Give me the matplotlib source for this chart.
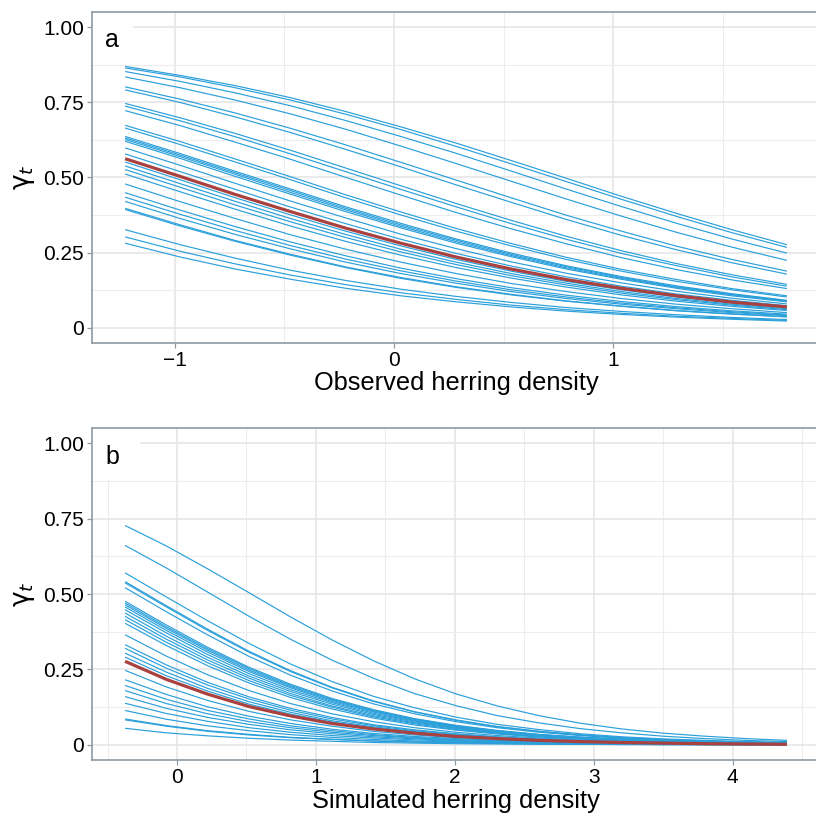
import matplotlib
matplotlib.use("Agg")
import matplotlib.pyplot as plt
from matplotlib.patches import Rectangle

plt.rcParams['font.family'] = ['Liberation Sans', 'DejaVu Sans']
plt.rcParams['mathtext.fontset'] = 'dejavusans'

# panel a: gamma_t against observed herring density (one row per year)
x_obs = [-1.225, -0.974, -0.723, -0.471, -0.22, 0.031, 0.283,
         0.534, 0.785, 1.036, 1.288, 1.539, 1.79]
gamma_obs = [
    [0.869, 0.839, 0.805, 0.765, 0.719, 0.668, 0.614, 0.556, 0.497, 0.437, 0.380, 0.326, 0.276],
    [0.864, 0.834, 0.798, 0.757, 0.710, 0.659, 0.603, 0.545, 0.486, 0.427, 0.370, 0.316, 0.267],
    [0.852, 0.819, 0.781, 0.738, 0.689, 0.636, 0.580, 0.521, 0.461, 0.403, 0.347, 0.295, 0.248],
    [0.834, 0.798, 0.757, 0.711, 0.660, 0.604, 0.546, 0.487, 0.428, 0.371, 0.317, 0.268, 0.224],
    [0.801, 0.760, 0.714, 0.663, 0.608, 0.550, 0.491, 0.432, 0.374, 0.321, 0.271, 0.227, 0.188],
    [0.791, 0.749, 0.701, 0.649, 0.593, 0.535, 0.475, 0.417, 0.360, 0.307, 0.259, 0.216, 0.178],
    [0.746, 0.698, 0.646, 0.590, 0.531, 0.472, 0.413, 0.357, 0.304, 0.256, 0.213, 0.176, 0.144],
    [0.737, 0.688, 0.635, 0.578, 0.519, 0.460, 0.402, 0.346, 0.294, 0.247, 0.206, 0.169, 0.138],
    [0.722, 0.672, 0.617, 0.560, 0.500, 0.441, 0.383, 0.329, 0.279, 0.233, 0.193, 0.159, 0.130],
    [0.673, 0.619, 0.561, 0.502, 0.442, 0.385, 0.330, 0.280, 0.234, 0.194, 0.160, 0.130, 0.106],
    [0.664, 0.609, 0.551, 0.492, 0.432, 0.375, 0.321, 0.272, 0.227, 0.188, 0.154, 0.126, 0.102],
    [0.636, 0.579, 0.520, 0.461, 0.402, 0.347, 0.295, 0.248, 0.206, 0.170, 0.139, 0.113, 0.091],
    [0.631, 0.574, 0.515, 0.456, 0.397, 0.342, 0.291, 0.244, 0.203, 0.167, 0.136, 0.111, 0.089],
    [0.626, 0.569, 0.510, 0.450, 0.392, 0.337, 0.286, 0.240, 0.199, 0.164, 0.134, 0.109, 0.088],
    [0.620, 0.563, 0.503, 0.444, 0.386, 0.332, 0.281, 0.236, 0.195, 0.161, 0.131, 0.106, 0.086],
    [0.598, 0.540, 0.480, 0.421, 0.365, 0.311, 0.263, 0.219, 0.181, 0.149, 0.121, 0.098, 0.079],
    [0.578, 0.519, 0.460, 0.401, 0.346, 0.294, 0.247, 0.205, 0.169, 0.138, 0.112, 0.091, 0.073],
    [0.551, 0.492, 0.432, 0.375, 0.321, 0.272, 0.227, 0.188, 0.154, 0.126, 0.102, 0.082, 0.066],
    [0.538, 0.479, 0.420, 0.363, 0.310, 0.261, 0.218, 0.180, 0.148, 0.120, 0.097, 0.078, 0.063],
    [0.526, 0.467, 0.408, 0.352, 0.300, 0.252, 0.210, 0.173, 0.142, 0.115, 0.093, 0.075, 0.060],
    [0.511, 0.452, 0.394, 0.338, 0.287, 0.241, 0.200, 0.165, 0.135, 0.109, 0.088, 0.071, 0.057],
    [0.478, 0.419, 0.363, 0.309, 0.261, 0.218, 0.180, 0.147, 0.120, 0.097, 0.078, 0.063, 0.050],
    [0.449, 0.391, 0.336, 0.285, 0.239, 0.198, 0.163, 0.133, 0.108, 0.087, 0.070, 0.056, 0.045],
    [0.434, 0.377, 0.323, 0.273, 0.228, 0.189, 0.155, 0.126, 0.102, 0.082, 0.066, 0.053, 0.042],
    [0.420, 0.363, 0.310, 0.262, 0.218, 0.180, 0.148, 0.120, 0.097, 0.078, 0.063, 0.050, 0.040],
    [0.397, 0.342, 0.290, 0.244, 0.202, 0.167, 0.136, 0.111, 0.089, 0.072, 0.057, 0.046, 0.036],
    [0.393, 0.338, 0.287, 0.241, 0.200, 0.164, 0.134, 0.109, 0.088, 0.071, 0.056, 0.045, 0.036],
    [0.326, 0.276, 0.231, 0.191, 0.157, 0.128, 0.104, 0.084, 0.067, 0.054, 0.043, 0.034, 0.027],
    [0.302, 0.254, 0.212, 0.175, 0.143, 0.116, 0.094, 0.075, 0.060, 0.048, 0.038, 0.031, 0.024],
    [0.281, 0.235, 0.195, 0.161, 0.131, 0.106, 0.086, 0.069, 0.055, 0.044, 0.035, 0.028, 0.022],
]
gamma_obs_mean = [0.562, 0.503, 0.443, 0.386, 0.331, 0.281, 0.235, 0.195, 0.160, 0.131, 0.106, 0.085, 0.069]

# panel b: gamma_t against simulated herring density
x_sim = [-0.374, -0.076, 0.222, 0.519, 0.817, 1.115, 1.413, 1.710, 2.008,
         2.306, 2.604, 2.901, 3.199, 3.497, 3.795, 4.092, 4.39]
gamma_sim = [
    [0.727, 0.659, 0.583, 0.504, 0.424, 0.348, 0.279, 0.219, 0.169, 0.129, 0.097, 0.072, 0.053, 0.039, 0.029, 0.021, 0.015],
    [0.661, 0.586, 0.506, 0.426, 0.350, 0.281, 0.221, 0.170, 0.130, 0.097, 0.073, 0.054, 0.040, 0.029, 0.021, 0.015, 0.011],
    [0.570, 0.490, 0.411, 0.336, 0.268, 0.210, 0.161, 0.123, 0.092, 0.068, 0.051, 0.037, 0.027, 0.020, 0.015, 0.011, 0.008],
    [0.541, 0.461, 0.383, 0.310, 0.246, 0.191, 0.146, 0.110, 0.083, 0.061, 0.045, 0.033, 0.024, 0.018, 0.013, 0.009, 0.007],
    [0.537, 0.457, 0.379, 0.307, 0.243, 0.189, 0.144, 0.109, 0.081, 0.060, 0.045, 0.033, 0.024, 0.017, 0.013, 0.009, 0.007],
    [0.521, 0.441, 0.364, 0.293, 0.231, 0.179, 0.136, 0.103, 0.077, 0.057, 0.042, 0.031, 0.022, 0.016, 0.012, 0.009, 0.006],
    [0.476, 0.397, 0.323, 0.257, 0.201, 0.154, 0.117, 0.087, 0.065, 0.048, 0.035, 0.026, 0.019, 0.014, 0.010, 0.007, 0.005],
    [0.470, 0.391, 0.318, 0.253, 0.197, 0.151, 0.114, 0.086, 0.063, 0.047, 0.034, 0.025, 0.018, 0.013, 0.010, 0.007, 0.005],
    [0.464, 0.386, 0.313, 0.248, 0.193, 0.148, 0.112, 0.084, 0.062, 0.046, 0.034, 0.025, 0.018, 0.013, 0.010, 0.007, 0.005],
    [0.457, 0.379, 0.307, 0.243, 0.189, 0.144, 0.109, 0.081, 0.060, 0.045, 0.033, 0.024, 0.017, 0.013, 0.009, 0.007, 0.005],
    [0.448, 0.371, 0.299, 0.236, 0.183, 0.140, 0.105, 0.079, 0.058, 0.043, 0.032, 0.023, 0.017, 0.012, 0.009, 0.006, 0.005],
    [0.437, 0.360, 0.290, 0.228, 0.177, 0.135, 0.101, 0.076, 0.056, 0.041, 0.030, 0.022, 0.016, 0.012, 0.009, 0.006, 0.005],
    [0.426, 0.350, 0.281, 0.221, 0.170, 0.129, 0.097, 0.073, 0.054, 0.039, 0.029, 0.021, 0.015, 0.011, 0.008, 0.006, 0.004],
    [0.415, 0.340, 0.272, 0.213, 0.164, 0.125, 0.093, 0.070, 0.051, 0.038, 0.028, 0.020, 0.015, 0.011, 0.008, 0.006, 0.004],
    [0.403, 0.329, 0.262, 0.205, 0.157, 0.119, 0.089, 0.066, 0.049, 0.036, 0.026, 0.019, 0.014, 0.010, 0.007, 0.005, 0.004],
    [0.365, 0.294, 0.232, 0.180, 0.137, 0.103, 0.077, 0.057, 0.042, 0.031, 0.023, 0.016, 0.012, 0.009, 0.006, 0.005, 0.003],
    [0.332, 0.265, 0.207, 0.159, 0.121, 0.091, 0.067, 0.050, 0.037, 0.027, 0.020, 0.014, 0.010, 0.008, 0.005, 0.004, 0.003],
    [0.320, 0.254, 0.198, 0.152, 0.115, 0.086, 0.064, 0.047, 0.035, 0.025, 0.019, 0.014, 0.010, 0.007, 0.005, 0.004, 0.003],
    [0.304, 0.241, 0.187, 0.143, 0.108, 0.080, 0.060, 0.044, 0.032, 0.024, 0.017, 0.013, 0.009, 0.007, 0.005, 0.003, 0.003],
    [0.291, 0.229, 0.178, 0.135, 0.102, 0.076, 0.056, 0.041, 0.030, 0.022, 0.016, 0.012, 0.009, 0.006, 0.005, 0.003, 0.002],
    [0.247, 0.192, 0.147, 0.111, 0.083, 0.062, 0.045, 0.033, 0.024, 0.018, 0.013, 0.009, 0.007, 0.005, 0.004, 0.003, 0.002],
    [0.216, 0.167, 0.126, 0.095, 0.071, 0.052, 0.038, 0.028, 0.021, 0.015, 0.011, 0.008, 0.006, 0.004, 0.003, 0.002, 0.002],
    [0.197, 0.151, 0.114, 0.086, 0.063, 0.047, 0.034, 0.025, 0.018, 0.013, 0.010, 0.007, 0.005, 0.004, 0.003, 0.002, 0.001],
    [0.180, 0.137, 0.103, 0.077, 0.057, 0.042, 0.031, 0.023, 0.016, 0.012, 0.009, 0.006, 0.005, 0.003, 0.002, 0.002, 0.001],
    [0.160, 0.121, 0.091, 0.068, 0.050, 0.037, 0.027, 0.020, 0.014, 0.010, 0.008, 0.006, 0.004, 0.003, 0.002, 0.002, 0.001],
    [0.138, 0.104, 0.078, 0.057, 0.042, 0.031, 0.023, 0.017, 0.012, 0.009, 0.006, 0.005, 0.003, 0.002, 0.002, 0.001, 0.001],
    [0.114, 0.085, 0.063, 0.047, 0.034, 0.025, 0.018, 0.013, 0.010, 0.007, 0.005, 0.004, 0.003, 0.002, 0.001, 0.001, 0.001],
    [0.086, 0.064, 0.047, 0.035, 0.025, 0.019, 0.013, 0.010, 0.007, 0.005, 0.004, 0.003, 0.002, 0.001, 0.001, 0.001, 0.001],
    [0.083, 0.062, 0.045, 0.033, 0.024, 0.018, 0.013, 0.009, 0.007, 0.005, 0.004, 0.003, 0.002, 0.001, 0.001, 0.001, 0.001],
    [0.055, 0.040, 0.030, 0.022, 0.016, 0.012, 0.008, 0.006, 0.004, 0.003, 0.002, 0.002, 0.001, 0.001, 0.001, 0.000, 0.000],
]
gamma_sim_mean = [0.277, 0.217, 0.168, 0.127, 0.096, 0.071, 0.053, 0.039, 0.028, 0.021, 0.015, 0.011, 0.008, 0.006, 0.004, 0.003, 0.002]

y_ticks = [0, 0.25, 0.5, 0.75, 1.0]
y_ticklabels = ['0', '0.25', '0.50', '0.75', '1.00']

blue = '#2A9FDA'
red = '#A8413F'
border = '#8D9AA2'


def style_panel(ax, xlim, xmajor, xminor, xlabels, xlabel, letter, box_w, box_h):
    ax.set_xlim(xlim)
    ax.set_ylim(-0.05, 1.05)
    ax.set_xticks(xmajor)
    ax.set_xticklabels(xlabels)
    ax.set_xticks(xminor, minor=True)
    ax.set_yticks(y_ticks)
    ax.set_yticklabels(y_ticklabels)
    ax.set_yticks([0.125, 0.375, 0.625, 0.875], minor=True)
    ax.grid(which='major', color='#E4E4E6', lw=1.1)
    ax.grid(which='minor', color='#EDEDEF', lw=0.8)
    ax.set_axisbelow(True)
    ax.tick_params(which='minor', length=0)
    ax.tick_params(which='major', length=3.4, width=0.9, color=border,
                   labelsize=15, pad=2.5, labelcolor='black')
    for s in ax.spines.values():
        s.set_color(border)
        s.set_linewidth(1.2)
    ax.set_xlabel(xlabel, fontsize=18.3, labelpad=1)
    ax.set_ylabel(r'$\mathrm{\gamma}_t$', fontsize=19, labelpad=4)
    # white label box behind the panel letter
    ax.add_patch(Rectangle((0, 1 - box_h), box_w, box_h + 0.01, transform=ax.transAxes,
                           facecolor='white', edgecolor='none', zorder=1, clip_on=True))
    ax.text(0.0275, 0.893, letter, transform=ax.transAxes, fontsize=18,
            ha='center', va='baseline', zorder=3)


fig = plt.figure(figsize=(8.16, 8.16), dpi=100)
ax_a = fig.add_axes([92 / 816, 1 - 342.7 / 816, 728 / 816, 330.7 / 816])
ax_b = fig.add_axes([92 / 816, 1 - 760 / 816, 728 / 816, 332 / 816])

for row in gamma_obs:
    ax_a.plot(x_obs, row, color=blue, lw=0.85, solid_capstyle='butt')
ax_a.plot(x_obs, gamma_obs_mean, color=red, lw=2.3, solid_capstyle='butt')

for row in gamma_sim:
    ax_b.plot(x_sim, row, color=blue, lw=0.85, solid_capstyle='butt')
ax_b.plot(x_sim, gamma_sim_mean, color=red, lw=2.3, solid_capstyle='butt')

style_panel(ax_a, (-1.376, 1.941), [-1, 0, 1], [-0.5, 0.5, 1.5],
            ['\u22121', '0', '1'], 'Observed herring density', 'a', 0.057, 0.15)
style_panel(ax_b, (-0.612, 4.628), [0, 1, 2, 3, 4], [-0.5, 0.5, 1.5, 2.5, 3.5, 4.5],
            ['0', '1', '2', '3', '4'], 'Simulated herring density', 'b', 0.066, 0.158)

fig.savefig('out.png', dpi=100)
